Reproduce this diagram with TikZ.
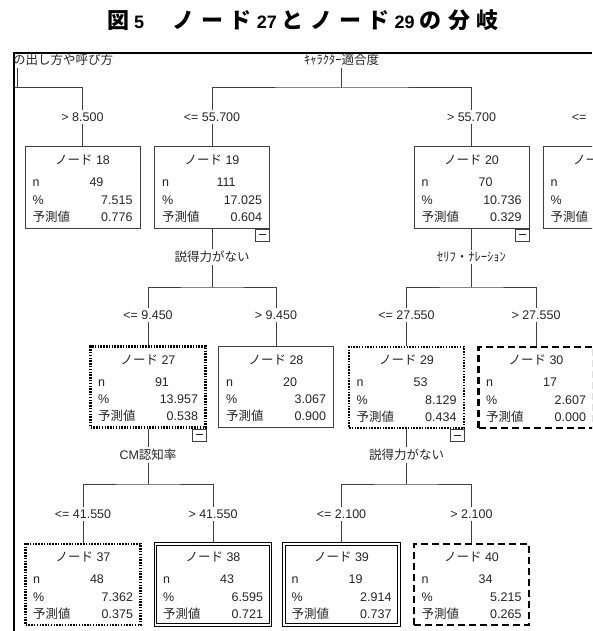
\documentclass[tikz,border=0pt]{standalone}
\usepackage{fontspec}
\setmainfont{Liberation Sans}
\newfontfamily\jpfont{Noto Sans CJK JP}
\newfontfamily\jpwide{Noto Sans CJK JP}[LetterSpace=30]
\newcommand{\jp}[1]{{\jpfont #1}}
\newcommand{\tjp}[1]{{\jpwide\fontsize{22}{26}\selectfont #1}}
\usetikzlibrary{positioning}

\newcommand{\nodetext}[4]{%
  \renewcommand{\arraystretch}{1.15}%
  \raisebox{0pt}[\dimexpr\height+4pt\relax][\depth]{%
  \begin{tabular}{@{}l@{}l@{}}
    \multicolumn{2}{@{}c@{}}{\jp{ノード} #1}\\[5pt]
    \makebox[46pt][l]{n} & \makebox[54pt][l]{\makebox[36pt]{#2}}\\
    \makebox[46pt][l]{\%} & \makebox[54pt][r]{#3}\\
    \makebox[46pt][l]{\jp{予測値}} & \makebox[54pt][r]{#4}
  \end{tabular}}}
\newcommand{\minussign}{\rule[1pt]{7pt}{0.8pt}}

\tikzset{
  treebox/.style={draw=black!75, line width=1pt, minimum width=115pt, minimum height=81pt, inner sep=0pt, fill=white},
  dotbox/.style={treebox, draw=black, line width=2.4pt, dash pattern=on 1.5pt off 1.3pt},
  dashbox/.style={treebox, draw=black, line width=2.4pt, dash pattern=on 7pt off 4pt},
  boldbox/.style={treebox, draw=black, line width=1.4pt, double, double distance=1.1pt},
  minusbox/.style={draw=black!75, line width=0.8pt, minimum width=14pt, minimum height=12pt, inner sep=0pt, anchor=north east, fill=white},
  lab/.style={inner sep=2pt},
  conn/.style={draw=black!75, line width=1pt}
}

\begin{document}
\begin{tikzpicture}[x=1pt, y=-1pt, font=\fontsize{12.5}{15}\selectfont, text=black!85]
  \useasboundingbox (0,0) rectangle (592,631);
  \node[font=\fontsize{18}{22}\selectfont\bfseries, text=black] (title) at (303,20)
    {\tjp{図} 5\tjp{　ノード} 27 \tjp{とノード} 29 \tjp{の分岐}};

  \begin{scope}
    \clip (14,53) rectangle (592,631);
    % first split
    \node[lab, anchor=west] (sleft) at (11,60) {\jp{の出し方や呼び方}};
    \node[lab] (stop) at (341.5,60) {\jp{ｷｬﾗｸﾀｰ適合度}};
    \coordinate (vleft) at (17,88);
    \coordinate (bleft) at (14,88);
    \coordinate (btop) at (341.5,88);
    \node[lab] (l18) at (82.5,117) {> 8.500};
    \node[lab] (l19) at (212,117) {<= 55.700};
    \node[lab] (l20) at (471.5,117) {> 55.700};
    \node[lab] (l21) at (600,117) {<=\phantom{ 55.700}};
    \node[treebox] (n18) at (82.5,187.5) {\nodetext{18}{49}{7.515}{0.776}};
    \node[treebox] (n19) at (212,187.5) {\nodetext{19}{111}{17.025}{0.604}};
    \node[treebox] (n20) at (471.5,187.5) {\nodetext{20}{70}{10.736}{0.329}};
    \node[treebox] (n21) at (600.5,187.5) {\nodetext{\phantom{21}}{}{}{}};
    \node[minusbox] (m19) at (n19.south east) {\minussign};
    \node[minusbox] (m20) at (n20.south east) {\minussign};
    \draw[conn] (sleft.south -| vleft) -- (vleft);
    \draw[conn] (bleft) -| (l18);
    \draw[conn] (l18) -- (n18);
    \draw[conn] (stop) -- (btop);
    \draw[conn] (l19) |- (btop) -| (l20);
    \draw[conn] (l19) -- (n19);
    \draw[conn] (l20) -- (n20);

    % second split
    \node[lab] (s19) at (212,257) {\jp{説得力がない}};
    \node[lab] (s20) at (471.5,257) {\jp{ｾﾘﾌ・ﾅﾚｰｼｮﾝ}};
    \coordinate (b19) at (212,287);
    \coordinate (b20) at (471.5,287);
    \node[lab] (l27) at (148,315) {<= 9.450};
    \node[lab] (l28) at (276,315) {> 9.450};
    \node[lab] (l29) at (406.5,315) {<= 27.550};
    \node[lab] (l30) at (536,315) {> 27.550};
    \node[dotbox] (n27) at (148,387) {\nodetext{27}{91}{13.957}{0.538}};
    \node[treebox] (n28) at (276,387) {\nodetext{28}{20}{3.067}{0.900}};
    \node[dotbox] (n29) at (406.5,387.5) {\nodetext{29}{53}{8.129}{0.434}};
    \node[dashbox] (n30) at (536,387.5) {\nodetext{30}{17}{2.607}{0.000}};
    \node[minusbox] (m27) at (n27.south east) {\minussign};
    \node[minusbox] (m29) at (n29.south east) {\minussign};
    \draw[conn] (n19) -- (s19);
    \draw[conn] (s19) -- (b19);
    \draw[conn] (l27) |- (b19) -| (l28);
    \draw[conn] (l27) -- (n27);
    \draw[conn] (l28) -- (n28);
    \draw[conn] (n20) -- (s20);
    \draw[conn] (s20) -- (b20);
    \draw[conn] (l29) |- (b20) -| (l30);
    \draw[conn] (l29) -- (n29);
    \draw[conn] (l30) -- (n30);

    % third split
    \node[lab] (s27) at (148,455) {CM\jp{認知率}};
    \node[lab] (s29) at (406.5,455) {\jp{説得力がない}};
    \coordinate (b27) at (148,484);
    \coordinate (b29) at (406.5,484);
    \node[lab] (l37) at (83,514) {<= 41.550};
    \node[lab] (l38) at (213,514) {> 41.550};
    \node[lab] (l39) at (341.5,514) {<= 2.100};
    \node[lab] (l40) at (471.5,514) {> 2.100};
    \node[dotbox] (n37) at (83,584.5) {\nodetext{37}{48}{7.362}{0.375}};
    \node[boldbox] (n38) at (213,584.5) {\nodetext{38}{43}{6.595}{0.721}};
    \node[boldbox] (n39) at (341.5,584.5) {\nodetext{39}{19}{2.914}{0.737}};
    \node[dashbox] (n40) at (471.5,584.5) {\nodetext{40}{34}{5.215}{0.265}};
    \draw[conn] (n27) -- (s27);
    \draw[conn] (s27) -- (b27);
    \draw[conn] (l37) |- (b27) -| (l38);
    \draw[conn] (l37) -- (n37);
    \draw[conn] (l38) -- (n38);
    \draw[conn] (n29) -- (s29);
    \draw[conn] (s29) -- (b29);
    \draw[conn] (l39) |- (b29) -| (l40);
    \draw[conn] (l39) -- (n39);
    \draw[conn] (l40) -- (n40);
  \end{scope}

  % frame
  \draw[line width=2pt] (14,631) -- (14,53) -- (592,53);
\end{tikzpicture}
\end{document}
